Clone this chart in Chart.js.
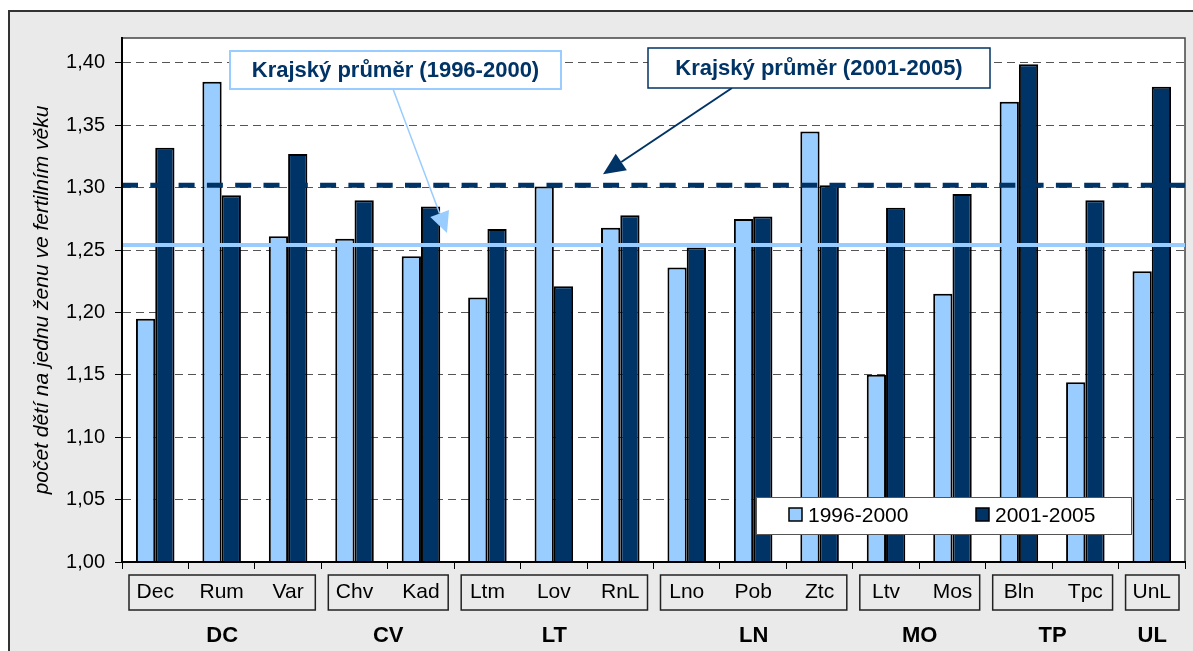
<!DOCTYPE html>
<html>
<head>
<meta charset="utf-8">
<script src="https://cdn.jsdelivr.net/npm/chart.js@4.4.1/dist/chart.umd.min.js"></script>
<style>
  html, body { margin: 0; padding: 0; background: #fff; }
  #wrap { width: 1193px; height: 651px; }
</style>
</head>
<body>
<div id="wrap"><canvas id="fertChart" width="1193" height="651"></canvas></div>
<script>
const categories = ["Dec", "Rum", "Var", "Chv", "Kad", "Ltm", "Lov", "RnL",
                    "Lno", "Pob", "Ztc", "Ltv", "Mos", "Bln", "Tpc", "UnL"];
const groupNames = ["DC", "CV", "LT", "LN", "MO", "TP", "UL"];
const groupSizes = [3, 2, 3, 3, 2, 2, 1];

const seriesLabels = ["1996-2000", "2001-2005"];
const values1996 = [1.195, 1.385, 1.261, 1.259, 1.245, 1.212, 1.301, 1.268,
                    1.236, 1.275, 1.345, 1.150, 1.215, 1.369, 1.144, 1.233];
const values2001 = [1.332, 1.294, 1.327, 1.290, 1.285, 1.267, 1.221, 1.278,
                    1.252, 1.277, 1.302, 1.284, 1.295, 1.399, 1.290, 1.381];

const avgLabels = ["Krajský průměr (1996-2000)", "Krajský průměr (2001-2005)"];
const avgValues = [1.254, 1.302];

const yMin = 1.00, yMax = 1.42, yStep = 0.05;
const yTitle = "počet dětí na jednu ženu ve fertilním věku";

const LIGHT = "#99ccff";
const DARK  = "#003366";
const FONT  = "'Liberation Sans', Arial, sans-serif";

function drawArrow(ctx, x1, y1, x2, y2, color, width, headLen, headHalf) {
  const dx = x2 - x1, dy = y2 - y1, len = Math.hypot(dx, dy);
  const ux = dx / len, uy = dy / len;
  const bx = x2 - ux * headLen, by = y2 - uy * headLen;
  ctx.strokeStyle = color;
  ctx.lineWidth = width;
  ctx.beginPath(); ctx.moveTo(x1, y1); ctx.lineTo(bx, by); ctx.stroke();
  ctx.fillStyle = color;
  ctx.beginPath();
  ctx.moveTo(x2, y2);
  ctx.lineTo(bx - uy * headHalf, by + ux * headHalf);
  ctx.lineTo(bx + uy * headHalf, by - ux * headHalf);
  ctx.closePath();
  ctx.fill();
}

function callout(ctx, x, y, w, h, text, border, bw) {
  ctx.fillStyle = "#fff";
  ctx.fillRect(x, y, w, h);
  ctx.strokeStyle = border;
  ctx.lineWidth = bw;
  ctx.strokeRect(x, y, w, h);
  ctx.fillStyle = DARK;
  ctx.font = "bold 22px " + FONT;
  ctx.textAlign = "center";
  ctx.textBaseline = "middle";
  ctx.fillText(text, x + w / 2, y + h / 2 + 1);
}

const decor = {
  id: "decor",
  beforeDraw(chart) {
    const { ctx, chartArea: a } = chart;
    ctx.save();
    ctx.fillStyle = "#fff";
    ctx.fillRect(0, 0, chart.width, chart.height);
    ctx.fillStyle = "#eaeaea";
    ctx.fillRect(9, 11, chart.width, chart.height);
    ctx.strokeStyle = "#333";
    ctx.lineWidth = 2;
    ctx.beginPath();
    ctx.moveTo(9, chart.height); ctx.lineTo(9, 11); ctx.lineTo(chart.width, 11);
    ctx.stroke();
    ctx.fillStyle = "#fff";
    ctx.fillRect(a.left, a.top, a.right - a.left, a.bottom - a.top);
    ctx.strokeStyle = "#444";
    ctx.lineWidth = 1.5;
    ctx.strokeRect(a.left, a.top, a.right - a.left, a.bottom - a.top);
    ctx.restore();
  },
  afterDatasetsDraw(chart) {
    const { ctx, chartArea: a, scales: { x, y } } = chart;
    ctx.save();

    // regional averages
    const yLight = y.getPixelForValue(avgValues[0]);
    const yDark  = y.getPixelForValue(avgValues[1]);
    ctx.strokeStyle = LIGHT;
    ctx.lineWidth = 4;
    ctx.beginPath(); ctx.moveTo(a.left, yLight); ctx.lineTo(a.right, yLight); ctx.stroke();
    ctx.strokeStyle = DARK;
    ctx.lineWidth = 5;
    ctx.setLineDash([16, 12.3]);
    ctx.beginPath(); ctx.moveTo(a.left, yDark); ctx.lineTo(a.right, yDark); ctx.stroke();
    ctx.setLineDash([]);

    // callouts
    drawArrow(ctx, 393, 89, 447, yLight - 12, LIGHT, 1.5, 21, 10);
    drawArrow(ctx, 732, 88, 603, yDark - 11, DARK, 2, 22, 10);
    callout(ctx, 230, 51, 331, 38, avgLabels[0], LIGHT, 2);
    callout(ctx, 648, 48, 342, 40, avgLabels[1], DARK, 1.5);

    // legend
    ctx.fillStyle = "#fff";
    ctx.fillRect(756, 497, 375, 37);
    ctx.strokeStyle = "#555";
    ctx.lineWidth = 1;
    ctx.strokeRect(756.5, 497.5, 375, 37);
    const items = [[789, LIGHT, seriesLabels[0]], [976, DARK, seriesLabels[1]]];
    ctx.font = "21px " + FONT;
    ctx.textAlign = "left";
    ctx.textBaseline = "middle";
    items.forEach(([lx, col, txt]) => {
      ctx.fillStyle = col;
      ctx.fillRect(lx, 508, 13, 13);
      ctx.strokeStyle = "#000";
      ctx.lineWidth = 1.5;
      ctx.strokeRect(lx, 508, 13, 13);
      ctx.fillStyle = "#000";
      ctx.fillText(txt, lx + 19, 516);
    });

    // district boxes and region labels
    const half = (x.getPixelForValue(1) - x.getPixelForValue(0)) / 2;
    let idx = 0;
    groupSizes.forEach((n, g) => {
      const left  = x.getPixelForValue(idx) - half + 7;
      const right = x.getPixelForValue(idx + n - 1) + half - 6;
      ctx.strokeStyle = "#222";
      ctx.lineWidth = 1.5;
      ctx.strokeRect(left, 575, right - left, 35);
      ctx.fillStyle = "#000";
      ctx.font = "bold 22px " + FONT;
      ctx.textAlign = "center";
      ctx.fillText(groupNames[g], (left + right) / 2, 636);
      idx += n;
    });
    ctx.restore();
  }
};

new Chart(document.getElementById("fertChart"), {
  type: "bar",
  data: {
    labels: categories,
    datasets: [
      { label: seriesLabels[0], data: values1996, backgroundColor: LIGHT,
        borderColor: "#000", borderWidth: 2 },
      { label: seriesLabels[1], data: values2001, backgroundColor: DARK,
        borderColor: "#000", borderWidth: 2 }
    ]
  },
  options: {
    responsive: false,
    animation: false,
    devicePixelRatio: 1,
    datasets: { bar: { categoryPercentage: 0.58, barPercentage: 1.0 } },
    layout: { padding: { left: 0, top: 38, right: 8, bottom: 0 } },
    plugins: { legend: { display: false }, tooltip: { enabled: false } },
    scales: {
      x: {
        afterFit: s => { s.height = 89; },
        grid: { display: true, drawOnChartArea: false, drawTicks: true, tickLength: 7,
                tickColor: "#000", offset: true },
        border: { display: true, color: "#000", width: 2, z: 1 },
        ticks: { color: "#000", padding: 11, font: { family: FONT, size: 21 } }
      },
      y: {
        min: yMin,
        max: yMax,
        afterFit: s => { s.width = 122; },
        grid: { color: "#555", lineWidth: 1, tickLength: 7, tickColor: "#000",
                tickBorderDash: [] },
        border: { display: true, color: "#000", width: 2, dash: [8, 5], z: 1 },
        ticks: {
          stepSize: yStep,
          includeBounds: false,
          color: "#000",
          padding: 10,
          font: { family: FONT, size: 20 },
          callback: v => v.toFixed(2).replace(".", ",")
        },
        title: {
          display: true,
          text: yTitle,
          color: "#000",
          font: { family: FONT, size: 21, style: "italic" },
          padding: { top: 30, bottom: 0 }
        }
      }
    }
  },
  plugins: [decor]
});
</script>
</body>
</html>
